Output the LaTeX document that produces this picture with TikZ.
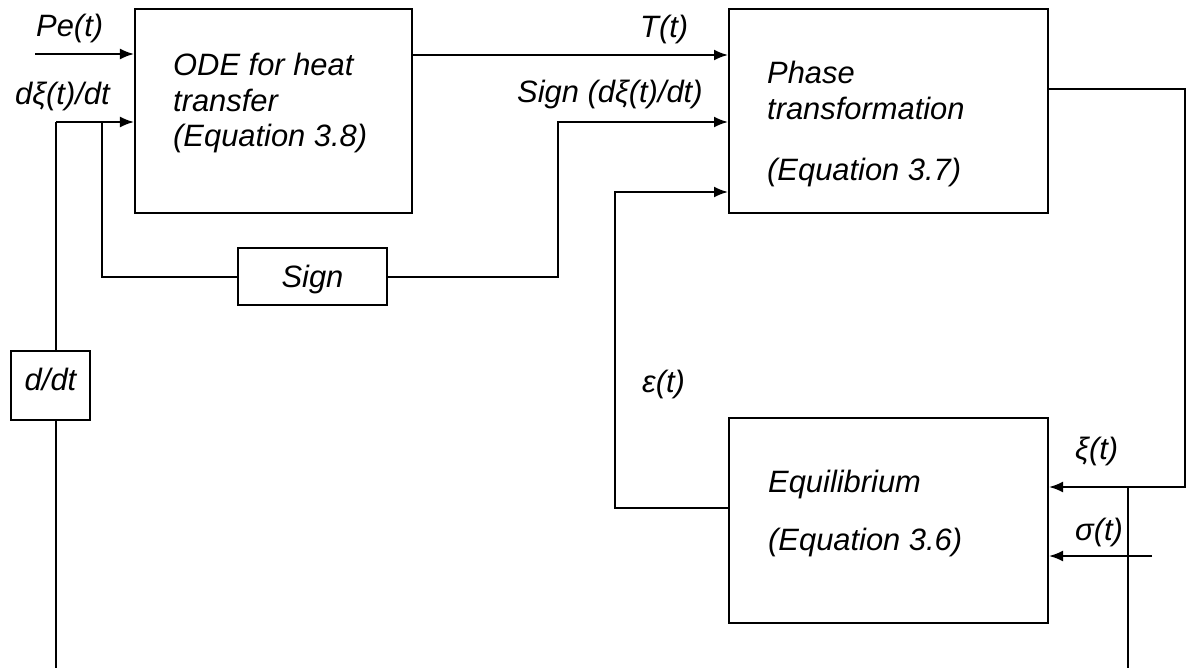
\documentclass[tikz,border=0pt]{standalone}
\usepackage{fontspec}
\setmainfont{Liberation Sans}
\usetikzlibrary{arrows.meta}
\begin{document}
\begin{tikzpicture}[x=1bp, y=-1bp, >={Latex[length=14bp,width=11bp]},
    blk/.style={draw, line width=2bp, inner sep=0pt},
    sig/.style={line width=2bp},
    lbl/.style={font=\fontsize{31}{36}\selectfont\itshape, inner sep=0pt, anchor=base west, align=left}]
    \useasboundingbox (0,0) rectangle (1188,668);

    % 1. Blocks
    \node[blk, minimum width=277bp, minimum height=204bp] (ode) at (273.5,111) {};
    \node[blk, minimum width=319bp, minimum height=204bp] (phase) at (888.5,111) {};
    \node[blk, minimum width=319bp, minimum height=205bp] (eqm) at (888.5,520.5) {};
    \node[blk, minimum width=149bp, minimum height=57bp] (sgn) at (312.5,276.5) {};
    \node[blk, minimum width=79bp, minimum height=69bp] (ddt) at (50.5,385.5) {};

    % 2. Texts inside the blocks (base = last line)
    \node[lbl] (odetxt) at (173,147) {ODE for heat\\transfer\\(Equation 3.8)};
    \node[lbl] (phasetxt) at (767,181) {Phase\\transformation\\[26bp](Equation 3.7)};
    \node[lbl] (eqmtxt) at (768,550) {Equilibrium\\[22bp](Equation 3.6)};
    \node[lbl, anchor=base] (sgntxt) at (sgn.center |- 0,287) {Sign};
    \node[lbl, anchor=base] (ddttxt) at (ddt.center |- 0,390) {d/dt};

    % 3. Signal names
    \node[lbl] (petxt) at (36,37) {Pe(t)};
    \node[lbl] (dxitxt) at (15,105) {dξ(t)/dt};
    \node[lbl] (ttxt) at (640,38) {T(t)};
    \node[lbl] (signtxt) at (517,103) {Sign (dξ(t)/dt)};
    \node[lbl] (epstxt) at (642,392) {ε(t)};
    \node[lbl] (xitxt) at (1075,459) {ξ(t)};
    \node[lbl] (sigmatxt) at (1075,540) {σ(t)};

    % 4. Connection points
    \coordinate (pein) at (35,54);
    \coordinate (fork) at (56,122);
    \coordinate (split) at (102,122);
    \coordinate (ddtout) at (56,668);
    \coordinate (tlev) at (0,55);
    \coordinate (sbend) at (558,122);
    \coordinate (elev) at (0,508);
    \coordinate (ebend) at (615,192);
    \coordinate (xlev) at (0,89);
    \coordinate (xbend) at (1185,487);
    \coordinate (xtap) at (1128,487);
    \coordinate (xout) at (1128,668);
    \coordinate (sigin) at (1152,556);

    % 5. Signal lines
    \draw[sig, ->] (pein) -- (pein -| ode.west);
    \draw[sig, ->] (fork) -- (fork -| ode.west);
    \draw[sig] (split) |- (sgn.west);
    \draw[sig] (fork) -- (fork |- ddt.north);
    \draw[sig] (fork |- ddt.south) -- (ddtout);
    \draw[sig, ->] (ode.east |- tlev) -- (phase.west |- tlev);
    \draw[sig, ->] (sgn.east) -| (sbend) -- (sbend -| phase.west);
    \draw[sig, ->] (eqm.west |- elev) -| (ebend) -- (ebend -| phase.west);
    \draw[sig, ->] (phase.east |- xlev) -| (xbend) -- (xbend -| eqm.east);
    \draw[sig] (xtap) -- (xout);
    \draw[sig, ->] (sigin) -- (sigin -| eqm.east);
\end{tikzpicture}
\end{document}
